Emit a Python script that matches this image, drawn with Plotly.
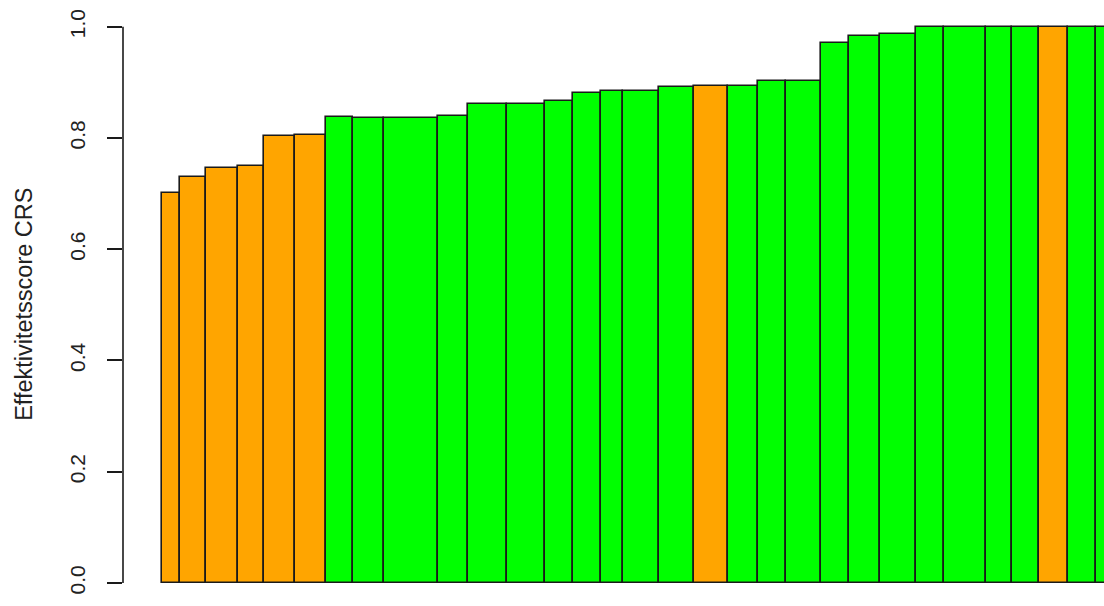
import plotly.graph_objects as go
import numpy as np

# Efficiency scores (CRS) per unit, sorted ascending
scores = [0.701, 0.729, 0.746, 0.749, 0.804, 0.806, 0.837, 0.836, 0.836, 0.840,
          0.861, 0.861, 0.867, 0.881, 0.884, 0.884, 0.892, 0.894, 0.894, 0.903,
          0.903, 0.970, 0.984, 0.987, 1.0, 1.0, 1.0, 1.0, 1.0, 1.0, 1.0]
# Bar widths (relative size of each unit)
widths = [18.3, 26.0, 32.3, 26.0, 30.7, 30.7, 27.6, 31.0, 53.4, 30.6,
          39.0, 38.0, 27.7, 27.6, 22.8, 35.6, 35.3, 33.7, 30.4, 27.6,
          35.3, 27.7, 30.5, 36.7, 27.8, 41.5, 26.2, 27.7, 29.0, 27.6, 33.0]
# Group membership: 1 = orange group, 0 = green group
group = [1, 1, 1, 1, 1, 1, 0, 0, 0, 0,
         0, 0, 0, 0, 0, 0, 0, 1, 0, 0,
         0, 0, 0, 0, 0, 0, 0, 0, 1, 0, 0]
group_colors = {1: "#FFA500", 0: "#00FF00"}
y_ticks = [0.0, 0.2, 0.4, 0.6, 0.8, 1.0]
y_title = "Effektivitetsscore CRS"

w = np.array(widths)
left = np.concatenate([[0], np.cumsum(w)[:-1]])
centers = left + w / 2
colors = [group_colors[g] for g in group]

fig = go.Figure()
fig.add_trace(go.Bar(
    x=centers, y=scores, width=w,
    marker=dict(color=colors, line=dict(color="#1a1a1a", width=1.6)),
    hoverinfo="y", showlegend=False,
))

font = "Liberation Sans, Arial, sans-serif"
W, H = 1104, 606
ml, mt, mb = 123, 5, 0
fig.update_layout(
    width=W, height=H,
    margin=dict(l=ml, r=0, t=mt, b=mb, pad=0),
    plot_bgcolor="white", paper_bgcolor="white",
    bargap=0,
    xaxis=dict(range=[-38.7, 942.3], visible=False, fixedrange=True),
    yaxis=dict(
        range=[-0.0413, 1.039], tickvals=y_ticks,
        ticktext=[f"{v:.1f}" for v in y_ticks],
        ticks="outside", ticklen=15, tickwidth=1.6, tickcolor="#1a1a1a",
        showline=False, showgrid=False, zeroline=False,
        tickangle=-90, ticklabelstandoff=14,
        tickfont=dict(family=font, size=21, color="#222222"),
    ),
    font=dict(family=font, color="#222222"),
)
# y-axis line spanning only 0..1 like base R
fig.add_shape(type="line", xref="paper", yref="y", x0=0, x1=0, y0=0, y1=1,
              line=dict(color="#1a1a1a", width=1.6))
fig.add_annotation(
    text=y_title, xref="paper", yref="y",
    x=(24 - ml) / (W - ml), y=0.5, showarrow=False, textangle=-90,
    xanchor="center", yanchor="middle",
    font=dict(family=font, size=23.5, color="#222222"),
)
fig.write_html("out.html", config={"displayModeBar": False},
               post_script="document.body.style.margin='0';document.body.style.overflow='hidden';")
